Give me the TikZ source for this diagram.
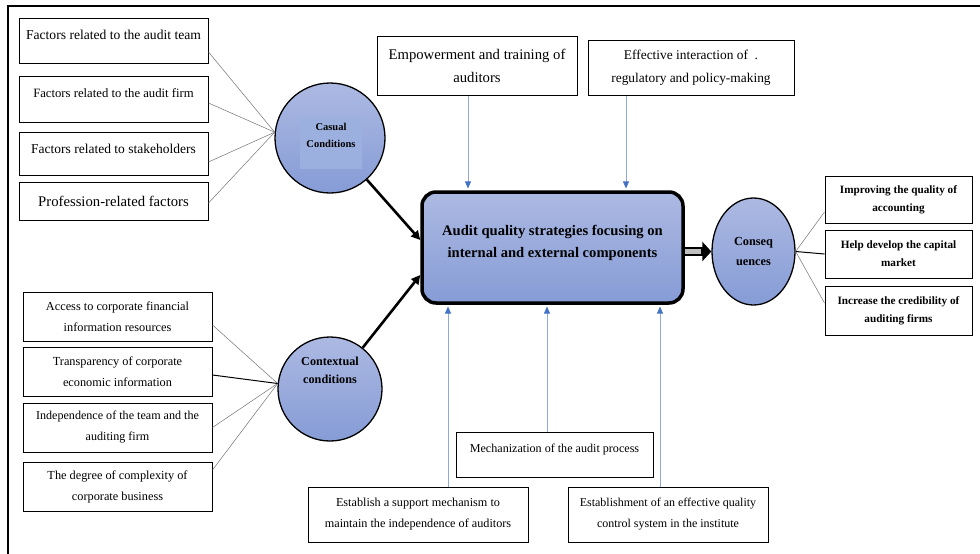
\documentclass[tikz,border=0pt]{standalone}
\usepackage{fontspec}
\setmainfont{Liberation Serif}
\usetikzlibrary{arrows.meta}
\usetikzlibrary{shapes.geometric}
\definecolor{lightblue}{RGB}{172,185,226}
\definecolor{darkblue}{RGB}{134,156,214}
\definecolor{lineblue}{RGB}{143,170,220}
\definecolor{tipblue}{RGB}{68,114,196}
\definecolor{patchblue}{RGB}{155,176,222}
\newcommand\fs[2]{\fontsize{#1}{#2}\selectfont}

\begin{document}
\begin{tikzpicture}[x=1pt, y=-1pt,
  box/.style={draw, line width=1pt, fill=white, align=center, inner sep=2pt},
  blob/.style={draw, line width=1.3pt, top color=lightblue, bottom color=darkblue, align=center, font=\bfseries},
  spoke/.style={draw=black!55, line width=0.5pt},
  feed/.style={draw=lineblue, line width=0.7pt, shorten >=1.8pt, -{Triangle[length=7pt,width=6pt,color=tipblue]}},
  push/.style={line width=2.6pt, -{Triangle[length=9pt,width=9pt]}}]

\useasboundingbox (0,0) rectangle (980,554);
\draw[line width=1.2pt] (980,6) -- (8,6) -- (8,554);

\node[box, minimum width=189pt, minimum height=45pt, text depth=12pt, font=\fs{13.6}{16}] (f1) at (113.5,40.5) {Factors related to the audit team};
\node[box, minimum width=189pt, minimum height=46pt, text depth=12pt, font=\fs{12.7}{15}] (f2) at (113.5,99) {Factors related to the audit firm};
\node[box, minimum width=189pt, minimum height=43pt, text depth=9pt, font=\fs{13.5}{16}] (f3) at (113.5,153.5) {Factors related to stakeholders};
\node[box, minimum width=189pt, minimum height=38pt, font=\fs{14.7}{17}] (f4) at (113.5,201) {Profession-related factors};

\node[blob, circle, minimum size=110pt] (cas) at (330,138) {};
\node[fill=patchblue, minimum width=62pt, minimum height=51pt, text depth=17pt, align=center, font=\bfseries\fs{10.5}{17}] (castext) at (331,143.5) {Casual\\Conditions};

\node[box, minimum width=189pt, minimum height=49pt, font=\fs{12.3}{21}] (b1) at (117.5,316.5) {Access to corporate financial\\information resources};
\node[box, minimum width=189pt, minimum height=49pt, font=\fs{12.3}{21}] (b2) at (117.5,371.5) {Transparency of corporate\\economic information};
\node[box, minimum width=189pt, minimum height=49pt, font=\fs{12.1}{21}] (b3) at (117.5,427.5) {Independence of the team and the\\auditing firm};
\node[box, minimum width=189pt, minimum height=49pt, font=\fs{12.3}{21}] (b4) at (117.5,486.5) {The degree of complexity of\\corporate business};

\node[blob, circle, minimum size=104pt, text depth=38pt, font=\bfseries\fs{12.2}{18}] (ctx) at (330,389) {Contextual\\conditions};

\node[blob, rounded corners=14pt, line width=3.5pt, minimum width=261pt, minimum height=111pt, text depth=12pt, font=\bfseries\fs{14.6}{22}] (main) at (552.5,247.5) {Audit quality strategies focusing on\\internal and external components};

\node[box, minimum width=200pt, minimum height=59pt, font=\fs{14.7}{23}] (e1) at (477,65.5) {Empowerment and training of\\auditors};
\node[box, minimum width=206pt, minimum height=55pt, font=\fs{13.4}{23}] (e2) at (691,67.5) {Effective interaction of~ .\\regulatory and policy-making};

\node[box, minimum width=197pt, minimum height=45pt, text depth=13pt, font=\fs{12.1}{21}] (mech) at (554.5,454.5) {Mechanization of the audit process};
\node[box, minimum width=220pt, minimum height=55pt, font=\fs{12.2}{21}] (s1) at (418,514.5) {Establish a support mechanism to\\maintain the independence of auditors};
\node[box, minimum width=200pt, minimum height=55pt, font=\fs{12}{21}] (q) at (668,514.5) {Establishment of an effective quality\\control system in the institute};

\node[blob, ellipse, minimum width=83pt, minimum height=107pt, font=\bfseries\fs{12.3}{20}] (cons) at (753.5,251.5) {Conseq\\uences};

\node[box, minimum width=147pt, minimum height=47pt, font=\bfseries\fs{11.2}{18}] (r1) at (898.5,199.5) {Improving the quality of\\accounting};
\node[box, minimum width=147pt, minimum height=48pt, font=\bfseries\fs{11.2}{18}] (r2) at (898.5,254) {Help develop the capital\\market};
\node[box, minimum width=147pt, minimum height=49pt, font=\bfseries\fs{11.2}{18}] (r3) at (898.5,310.5) {Increase the credibility of\\auditing firms};

\foreach \n/\s in {f1/-11.5, f2/-4, f3/-8.5, f4/-2}
  \draw[spoke] ([yshift=\s pt]\n.east) -- (cas.174);
\foreach \n/\s in {b1/-8.5, b3/0, b4/16.5}
  \draw[spoke] ([yshift=\s pt]\n.east) -- (ctx.174);
\draw[line width=1pt] ([yshift=-3.5pt]b2.east) -- (ctx.174);

\draw[spoke] ([yshift=-12.5pt]r1.west) -- (cons.east);
\draw[line width=1pt] (r2.west) -- (cons.east);
\draw[spoke] ([yshift=7.5pt]r3.west) -- (cons.east);

\draw[push] (cas) -- ([yshift=7.5pt]main.west);
\draw[push] (ctx) -- ([yshift=-27.5pt]main.west);
\draw[line width=9pt, -{Triangle[length=9pt,width=19pt]}] (main.east |- cons) -- (cons.west);
\draw[line width=5pt, black!25, shorten >=10pt] (main.east |- cons) -- (cons.west);

\draw[feed] ([xshift=-9pt]e1.south) -- ([xshift=-9pt]e1.south |- main.north);
\draw[feed] ([xshift=-65pt]e2.south) -- ([xshift=-65pt]e2.south |- main.north);
\draw[feed] ([xshift=30pt]s1.north) -- ([xshift=30pt]s1.north |- main.south);
\draw[feed] ([xshift=-7.5pt]mech.north) -- ([xshift=-7.5pt]mech.north |- main.south);
\draw[feed] ([xshift=-8pt]q.north) -- ([xshift=-8pt]q.north |- main.south);
\end{tikzpicture}
\end{document}
